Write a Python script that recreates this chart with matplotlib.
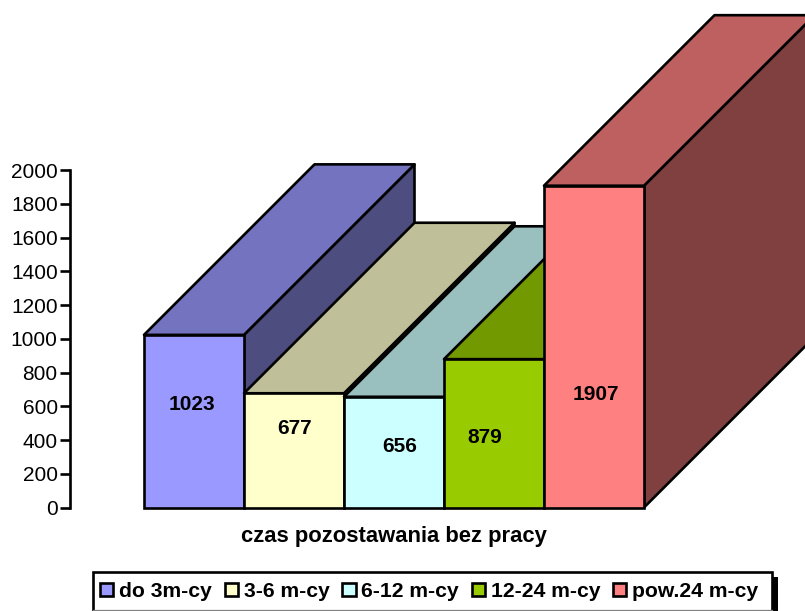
import matplotlib
matplotlib.use('Agg')
import matplotlib.pyplot as plt
from matplotlib.lines import Line2D
from matplotlib.patches import Patch, Rectangle

plt.rcParams['font.family'] = ['Liberation Sans', 'DejaVu Sans']

# dane
categories = ['do 3m-cy', '3-6 m-cy', '6-12 m-cy', '12-24 m-cy', 'pow.24 m-cy']
values = [1023, 677, 656, 879, 1907]
front_colors = ['#9999FF', '#FFFFCC', '#CCFFFF', '#99CC00', '#FF8080']
top_colors = ['#7373BF', '#BFBF99', '#99BFBF', '#739900', '#BF6060']
side_colors = ['#4D4D80', '#808066', '#668080', '#4D6600', '#804040']
y_ticks = [0, 200, 400, 600, 800, 1000, 1200, 1400, 1600, 1800, 2000]
x_title = 'czas pozostawania bez pracy'

# polozenie etykiet wartosci (jak w oryginale, nie na srodku slupka)
label_x = [0.475, 1.51, 2.56, 3.405, 4.515]
label_y = [611, 471, 362, 416, 672]

# skala: 100 px na kategorie, 0.16875 px na jednostke
W, H = 805, 611
px_per_val = 337.5 / 2000
depth_x = 1.705
depth_y = 170.5 / px_per_val
lw = 1.9

fig = plt.figure(figsize=(W / 100, H / 100), dpi=100)
ax = fig.add_axes([0, 0, 1, 1])
ax.set_zorder(5)  # os nad ramka legendy
ax.set_xlim(-1.44, (W - 144) / 100)
ax.set_ylim(-(H - 507.5) / px_per_val, 507.5 / px_per_val)
ax.patch.set_visible(False)

# slupki od lewej do prawej: bok, gora, przod
for i, v in enumerate(values):
    z = 3 + i * 3
    ax.fill([i + 1, i + 1 + depth_x, i + 1 + depth_x, i + 1],
            [0, depth_y, v + depth_y, v],
            facecolor=side_colors[i], edgecolor='black', linewidth=lw, zorder=z, joinstyle='round')
    ax.fill([i, i + 1, i + 1 + depth_x, i + depth_x],
            [v, v, v + depth_y, v + depth_y],
            facecolor=top_colors[i], edgecolor='black', linewidth=lw, zorder=z + 1, joinstyle='round')
    ax.bar(i, v, width=1, align='edge', color=front_colors[i], edgecolor='black',
           linewidth=lw, zorder=z + 2)

for x, y, v in zip(label_x, label_y, values):
    ax.text(x, y, str(v), ha='center', va='center', fontsize=15, fontweight='bold', zorder=30)

# os y
for s in ['top', 'right', 'bottom']:
    ax.spines[s].set_visible(False)
ax.spines['left'].set_position(('data', -0.745))
ax.spines['left'].set_bounds(0, 2000)
ax.spines['left'].set_linewidth(lw)
ax.set_xticks([])
ax.set_yticks(y_ticks)
ax.tick_params(axis='y', length=7, width=lw, pad=1.5, labelsize=15)

ax.text(2.5, -170, x_title, ha='center', va='center', fontsize=15.8, fontweight='bold')

# legenda: cien, ramka ucieta dolem jak w oryginale
fig.add_artist(Rectangle((772 / W, 0), 6 / W, (H - 577) / H, transform=fig.transFigure,
                         facecolor='black', edgecolor='none'))
fig.add_artist(Rectangle((93 / W, -4 / H), 679 / W, (H - 572 + 4) / H, transform=fig.transFigure,
                         facecolor='white', edgecolor='black', linewidth=lw))
fig.add_artist(Line2D([93 / W, 772 / W], [0.7 / H, 0.7 / H], transform=fig.transFigure,
                      color='#808080', linewidth=0.9))
handles = [Patch(facecolor=c, edgecolor='black', linewidth=lw) for c in front_colors]
leg = ax.legend(handles, categories, ncol=5, loc='center left', frameon=False,
                bbox_to_anchor=(100 / W, (H - 591.5) / H), bbox_transform=fig.transFigure,
                borderaxespad=0, borderpad=0, handlelength=0.63, handleheight=0.63,
                handletextpad=0.28, columnspacing=0.6, prop={'size': 15.2, 'weight': 'bold'})
leg.set_zorder(40)

plt.savefig('out.png', dpi=100)
